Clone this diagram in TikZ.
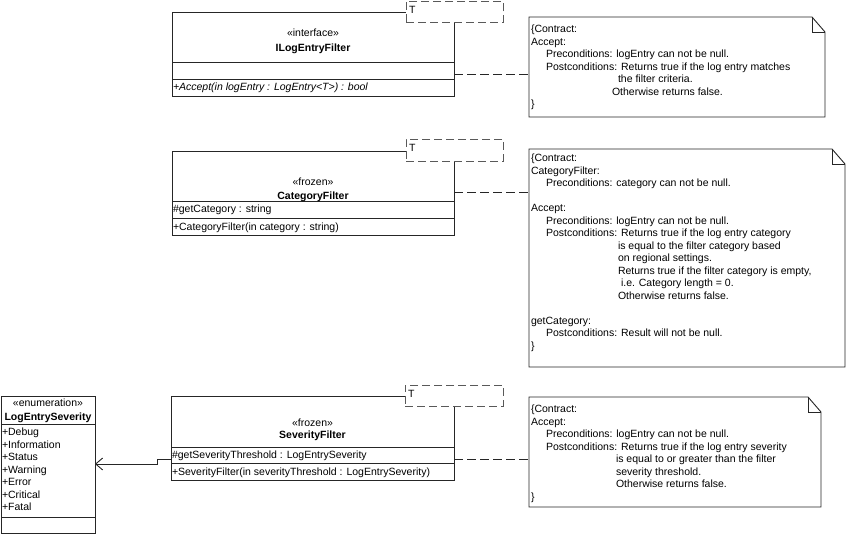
\documentclass[tikz,border=0pt]{standalone}
\usepackage{fontspec}
\setmainfont{Liberation Sans}
\usetikzlibrary{arrows.meta}
\definecolor{linec}{gray}{0.15}
\definecolor{tcol}{gray}{0.35}
\newcommand\drawnote[1]{%
  \draw[linec, line width=0.9pt] (#1.north west) -- ([xshift=-13pt]#1.north east)
     -- ([yshift=-15pt]#1.north east) -- (#1.south east) -- (#1.south west) -- cycle;
  \draw[linec, line width=0.9pt] ([xshift=-13pt]#1.north east)
     -- ([xshift=-13pt,yshift=-15pt]#1.north east) -- ([yshift=-15pt]#1.north east);}
\begin{document}
\begin{tikzpicture}[x=1pt,y=-1pt,
  every node/.style={font=\fontsize{10.5}{12.5}\selectfont, inner sep=0pt, outer sep=0pt},
  box/.style={draw=linec, line width=0.9pt, fill=white, anchor=north west},
  tbox/.style={draw=tcol, line width=0.9pt, dash pattern=on 8pt off 4pt, fill=white, anchor=north west},
  area/.style={anchor=north west},
  lt/.style={anchor=base west},
  ct/.style={anchor=base},
  cl/.style={linec, line width=0.9pt},
  dep/.style={linec, line width=0.9pt, dash pattern=on 9pt off 4pt},
  assoc/.style={linec, line width=0.9pt, -{Straight Barb[length=7pt,width=12pt]}}
]
\useasboundingbox (0,0) rectangle (847,534);

% ---------- ILogEntryFilter ----------
\node[box, minimum width=282pt, minimum height=84pt] (ilef) at (172,12) {};
\draw[cl] (172,62) -- (454,62);
\draw[cl] (172,79) -- (454,79);
\node[ct] (ilefs) at (313,37) {«interface»};
\node[ct] (ilefn) at (313,52) {\bfseries ILogEntryFilter};
\node[lt] (ilefo) at (173,91) {\itshape +Accept(in logEntry : LogEntry<T>) : bool};
\node[tbox, minimum width=97pt, minimum height=21pt] (ilt) at (406,1.5) {};
\node[lt] (iltt) at (409,14) {T};

% ---------- CategoryFilter ----------
\node[box, minimum width=282pt, minimum height=84pt] (catf) at (172,151) {};
\draw[cl] (172,201) -- (454,201);
\draw[cl] (172,218) -- (454,218);
\node[ct] (catfs) at (313,186) {«frozen»};
\node[ct] (catfn) at (313,200) {\bfseries CategoryFilter};
\node[lt] (catfa) at (173,213) {\#getCategory : string};
\node[lt] (catfo) at (173,231) {+CategoryFilter(in category : string)};
\node[tbox, minimum width=97pt, minimum height=22pt] (catt) at (406,139) {};
\node[lt] (cattt) at (409,152) {T};

% ---------- SeverityFilter ----------
\node[box, minimum width=283pt, minimum height=84pt] (sevf) at (171,396) {};
\draw[cl] (171,447) -- (454,447);
\draw[cl] (171,463) -- (454,463);
\node[ct] (sevfs) at (312.5,427) {«frozen»};
\node[ct] (sevfn) at (312.5,439) {\bfseries SeverityFilter};
\node[lt] (sevfa) at (172,459) {\#getSeverityThreshold : LogEntrySeverity};
\node[lt] (sevfo) at (172,476) {+SeverityFilter(in severityThreshold : LogEntrySeverity)};
\node[tbox, minimum width=98pt, minimum height=21pt] (sevt) at (405,385) {};
\node[lt] (sevtt) at (408,398) {T};

% ---------- LogEntrySeverity ----------
\node[box, minimum width=94pt, minimum height=137pt] (enum) at (1,396) {};
\draw[cl] (1,424) -- (95,424);
\draw[cl] (1,517) -- (95,517);
\node[ct] (enums) at (48,407) {«enumeration»};
\node[ct] (enumn) at (48,421) {\bfseries LogEntrySeverity};
\foreach \t [count=\i] in {+Debug,+Information,+Status,+Warning,+Error,+Critical,+Fatal}
  \node[lt] (enumi\i) at (2,{436+12.5*(\i-1)}) {\t};

% ---------- Notes ----------
\node[area, minimum width=296pt, minimum height=100pt] (n1) at (529,17) {};
\drawnote{n1}
\foreach \t [count=\i] in {{\{Contract:},{Accept:},
  {\hspace*{15pt}Preconditions: logEntry can not be null.},
  {\hspace*{15pt}Postconditions: Returns true if the log entry matches},
  {\hspace*{87pt}the filter criteria.},
  {\hspace*{81pt}Otherwise returns false.},
  {\}}}
  \node[lt] (n1l\i) at (531,{33+12.5*(\i-1)}) {\t};

\node[area, minimum width=316pt, minimum height=218pt] (n2) at (529,149) {};
\drawnote{n2}
\foreach \t [count=\i] in {{\{Contract:},{CategoryFilter:},
  {\hspace*{15pt}Preconditions: category can not be null.},{},
  {Accept:},
  {\hspace*{15pt}Preconditions: logEntry can not be null.},
  {\hspace*{15pt}Postconditions: Returns true if the log entry category},
  {\hspace*{87pt}is equal to the filter category based},
  {\hspace*{87pt}on regional settings.},
  {\hspace*{87pt}Returns true if the filter category is empty,},
  {\hspace*{90pt}i.e. Category length = 0.},
  {\hspace*{87pt}Otherwise returns false.},{},
  {getCategory:},
  {\hspace*{15pt}Postconditions: Result will not be null.},
  {\}}}
  \node[lt] (n2l\i) at (531,{162+12.5*(\i-1)}) {\t};

\node[area, minimum width=292pt, minimum height=110pt] (n3) at (529,397) {};
\drawnote{n3}
\foreach \t [count=\i] in {{\{Contract:},{Accept:},
  {\hspace*{15pt}Preconditions: logEntry can not be null.},
  {\hspace*{15pt}Postconditions: Returns true if the log entry severity},
  {\hspace*{85pt}is equal to or greater than the filter},
  {\hspace*{85pt}severity threshold.},
  {\hspace*{85pt}Otherwise returns false.},
  {\}}}
  \node[lt] (n3l\i) at (531,{413+12.5*(\i-1)}) {\t};

% ---------- Connectors ----------
\draw[dep] (ilef.east |- 0,74) -- (n1.west |- 0,74);
\draw[dep] (catf.east |- 0,192) -- (n2.west |- 0,192);
\draw[dep] (sevf.east |- 0,459) -- (n3.west |- 0,459);
\coordinate (b1) at (157,459);
\coordinate (b2) at (157,464);
\draw[assoc] (sevf.west |- b1) -- (b1) -- (b2) -- (enum.east |- b2);
\end{tikzpicture}
\end{document}
